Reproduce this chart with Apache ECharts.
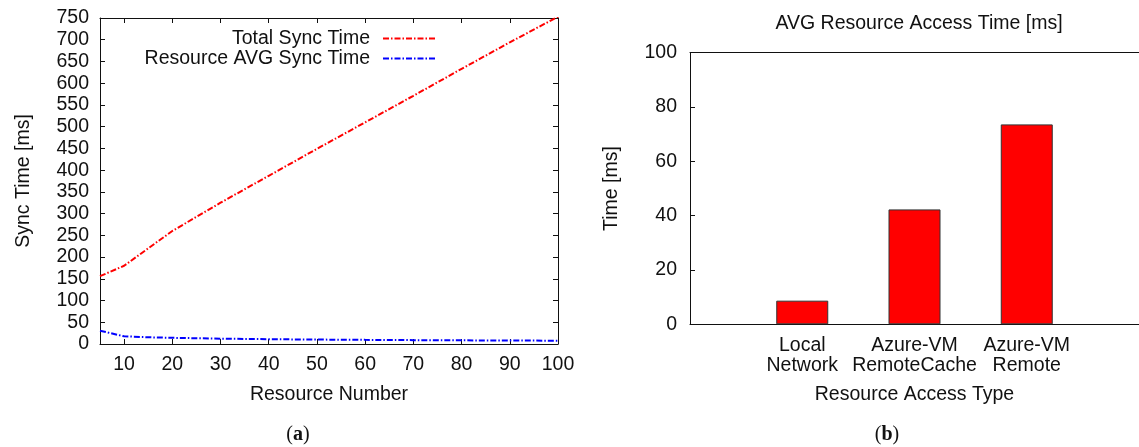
<!DOCTYPE html>
<html>
<head>
<meta charset="utf-8">
<script src="https://cdn.jsdelivr.net/npm/echarts@6/dist/echarts.min.js"></script>
<style>
  html, body { margin: 0; padding: 0; background: #fff; }
  #main { width: 1139px; height: 447px; }
</style>
</head>
<body>
<div id="main"></div>
<script>
'use strict';

// ---- data: (a) sync time vs resource count ----
const resourceNumbers = [5, 10, 15, 20, 30, 40, 50, 60, 70, 80, 90, 100];
const totalSync = [156, 180, 220, 260, 325, 387, 449, 510, 571, 633, 694, 753];
const avgSync = [30.6, 17.7, 15.5, 14.2, 12.3, 11.0, 10.2, 9.5, 8.9, 8.4, 8.0, 7.6];
const xTicksA = [10, 20, 30, 40, 50, 60, 70, 80, 90, 100];

// ---- data: (b) access time per resource type ----
const accessTypes = ['Local\nNetwork', 'Azure-VM\nRemoteCache', 'Azure-VM\nRemote'];
const accessTime = [8.7, 42.3, 73.6];

const FONT = '"Liberation Sans", Arial, Helvetica, sans-serif';
const FS = 19.5;
const ink = '#111';
const txt = { color: ink, fontFamily: FONT, fontSize: FS };
const axLine = { show: true, onZero: false, lineStyle: { color: ink, width: 1 } };
const tickIn = { show: true, inside: true, length: 5, lineStyle: { color: ink, width: 1 } };
const dashDot = [6, 2, 1.5, 2];

const chart = echarts.init(document.getElementById('main'));

chart.setOption({
  animation: false,
  textStyle: { fontFamily: FONT },
  grid: [
    { left: 100, top: 18, width: 458, height: 326 },
    { left: 690, top: 52.7, width: 458.5, height: 271.6 },
  ],
  legend: {
    orient: 'vertical', right: 698, top: 23.5, align: 'right',
    itemWidth: 52, itemHeight: 10, itemGap: 0,
    itemStyle: { opacity: 0 },
    textStyle: { ...txt, lineHeight: 19, padding: [0, 8, 0, 0] },
    data: ['Total Sync Time', 'Resource AVG Sync Time'],
  },
  xAxis: [
    { gridIndex: 0, type: 'value', min: 5, max: 100, position: 'bottom',
      name: 'Resource Number', nameLocation: 'middle', nameGap: 41, nameTextStyle: txt,
      axisLine: axLine, axisTick: { ...tickIn, customValues: xTicksA },
      axisLabel: { ...txt, margin: 11, customValues: xTicksA }, splitLine: { show: false } },
    { gridIndex: 0, type: 'value', min: 5, max: 100, position: 'top',
      axisLine: axLine, axisTick: { ...tickIn, customValues: xTicksA },
      axisLabel: { show: false }, splitLine: { show: false } },
    { gridIndex: 1, type: 'value', min: -1, max: 3, position: 'bottom',
      name: 'Resource Access Type', nameLocation: 'middle', nameGap: 60, nameTextStyle: txt,
      axisLine: axLine, axisTick: { show: false },
      axisLabel: { ...txt, lineHeight: 20, margin: 11, customValues: [0, 1, 2], formatter: v => accessTypes[v] || '' },
      splitLine: { show: false } },
    { gridIndex: 1, type: 'value', min: -1, max: 3, position: 'top',
      axisLine: axLine, axisTick: { show: false }, axisLabel: { show: false }, splitLine: { show: false } },
  ],
  yAxis: [
    { gridIndex: 0, type: 'value', min: 0, max: 750, interval: 50, position: 'left',
      name: 'Sync Time [ms]', nameLocation: 'middle', nameGap: 66, nameTextStyle: txt,
      axisLine: axLine, axisTick: tickIn, axisLabel: { ...txt, margin: 11 }, splitLine: { show: false } },
    { gridIndex: 0, type: 'value', min: 0, max: 750, interval: 50, position: 'right',
      axisLine: axLine, axisTick: tickIn, axisLabel: { show: false }, splitLine: { show: false } },
    { gridIndex: 1, type: 'value', min: 0, max: 100, interval: 20, position: 'left',
      name: 'Time [ms]', nameLocation: 'middle', nameGap: 68, nameTextStyle: txt,
      axisLine: axLine, axisTick: tickIn, axisLabel: { ...txt, margin: 13 }, splitLine: { show: false } },
  ],
  series: [
    { name: 'Total Sync Time', type: 'line', xAxisIndex: 0, yAxisIndex: 0, symbol: 'none',
      data: resourceNumbers.map((x, i) => [x, totalSync[i]]),
      lineStyle: { color: '#ff0000', width: 2, type: dashDot }, itemStyle: { color: '#ff0000' } },
    { name: 'Resource AVG Sync Time', type: 'line', xAxisIndex: 0, yAxisIndex: 0, symbol: 'none',
      data: resourceNumbers.map((x, i) => [x, avgSync[i]]),
      lineStyle: { color: '#0000ff', width: 2, type: dashDot }, itemStyle: { color: '#0000ff' } },
    { name: 'AVG Resource Access Time', type: 'bar', xAxisIndex: 2, yAxisIndex: 2, barWidth: 52,
      data: accessTime.map((v, i) => [i, v]),
      itemStyle: { color: '#ff0000', borderColor: '#333', borderWidth: 1 } },
  ],
  graphic: [
    { type: 'text', x: 919, y: 24, style: { text: 'AVG Resource Access Time [ms]', fill: ink, font: `${FS}px ${FONT}`, align: 'center', verticalAlign: 'middle' } },
    { type: 'text', x: 298, y: 435, style: { text: '{p|(}{b|a}{p|)}', align: 'center', verticalAlign: 'middle',
      rich: { p: { fontFamily: '"Liberation Serif", serif', fontSize: 20, fill: ink }, b: { fontFamily: '"Liberation Serif", serif', fontSize: 20, fontWeight: 'bold', fill: ink } } } },
    { type: 'text', x: 887, y: 435, style: { text: '{p|(}{b|b}{p|)}', align: 'center', verticalAlign: 'middle',
      rich: { p: { fontFamily: '"Liberation Serif", serif', fontSize: 20, fill: ink }, b: { fontFamily: '"Liberation Serif", serif', fontSize: 20, fontWeight: 'bold', fill: ink } } } },
  ],
});
</script>
</body>
</html>
